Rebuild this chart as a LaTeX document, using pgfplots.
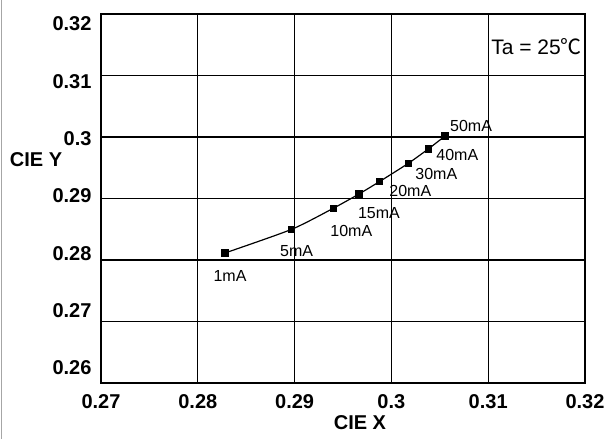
\documentclass[border=0pt]{standalone}
\usepackage{pgfplots}
\pgfplotsset{compat=1.18}
\usepackage{fontspec}
\setmainfont{Liberation Sans}
\newfontfamily\cjk{Noto Sans CJK SC}
\newcommand\tfont{\fontsize{20}{22}\selectfont\bfseries}
\newcommand\tl[1]{\mbox{\tfont #1}}
\begin{document}
\begin{tikzpicture}
\begin{axis}[
  scale only axis, width=484pt, height=369pt,
  xmin=0.27, xmax=0.32, ymin=0.26, ymax=0.32,
  xtick={0.27,0.28,0.29,0.3,0.31,0.32},
  xticklabels={\tl{0.27},\tl{0.28},\tl{0.29},\tl{0.3},\tl{0.31},\tl{0.32}},
  xmajorgrids=true,
  ytick={0.318374,0.309052,0.299729,0.290407,0.281084,0.271762,0.262439},
  yticklabels={\tl{0.32},\tl{0.31},\tl{0.3},\tl{0.29},\tl{0.28},\tl{0.27},\tl{0.26}},
  ymajorgrids=false,
  extra y ticks={0.27,0.28,0.29,0.3,0.31},
  extra y tick labels={},
  extra y tick style={ymajorgrids=true},
  major tick length=0pt,
  grid style={black, line width=1.1pt},
  axis line style={black, line width=1.4pt},
  xticklabel style={yshift=-8pt},
  yticklabel style={xshift=-6pt},
  clip=false,
]
\addplot[black, line width=1.2pt, smooth, tension=0.4, mark=square*, mark size=3pt, mark options={solid, fill=black}]
  coordinates {(0.28281,0.28114) (0.28970,0.28499) (0.29400,0.28841) (0.29665,0.29073) (0.29875,0.29273) (0.30175,0.29572) (0.30381,0.29805) (0.30554,0.30016)};
\begin{scope}[every node/.style={font=\fontsize{16}{18}\selectfont, inner sep=0pt}]
\node[xshift=5pt, yshift=-23pt] at (axis cs:0.28281,0.28114) {1mA};
\node[xshift=5pt, yshift=-22pt] at (axis cs:0.28970,0.28499) {5mA};
\node[xshift=18pt, yshift=-23pt] at (axis cs:0.29400,0.28841) {10mA};
\node[xshift=20pt, yshift=-19pt] at (axis cs:0.29665,0.29073) {15mA};
\node[xshift=31pt, yshift=-9pt] at (axis cs:0.29875,0.29273) {20mA};
\node[xshift=28pt, yshift=-11pt] at (axis cs:0.30175,0.29572) {30mA};
\node[xshift=29pt, yshift=-6pt] at (axis cs:0.30381,0.29805) {40mA};
\node[xshift=26pt, yshift=10pt] at (axis cs:0.30554,0.30016) {50mA};
\end{scope}
\node[anchor=east, inner sep=0pt, font=\fontsize{21}{23}\selectfont] at ([xshift=-3pt]rel axis cs:1,0.9106) {Ta = 25{\cjk ℃}};
\node[inner sep=0pt, font=\tfont] at ([xshift=-65pt]rel axis cs:0,0.6043) {CIE Y};
\node[inner sep=0pt, font=\tfont] at ([yshift=-40pt]rel axis cs:0.535,0) {CIE X};
\coordinate (ll) at (rel axis cs:0,0);
\coordinate (ur) at (rel axis cs:1,1);
\end{axis}
\draw[gray!70, line width=1.2pt] ([xshift=-99.5pt, yshift=-56pt]ll) -- ([xshift=-99.5pt]ll |- ur) -- ++(0,14pt);
\pgfresetboundingbox
\path[use as bounding box] ([xshift=-101pt, yshift=-56pt]ll) rectangle ([xshift=24pt, yshift=14pt]ur);
\end{tikzpicture}
\end{document}
